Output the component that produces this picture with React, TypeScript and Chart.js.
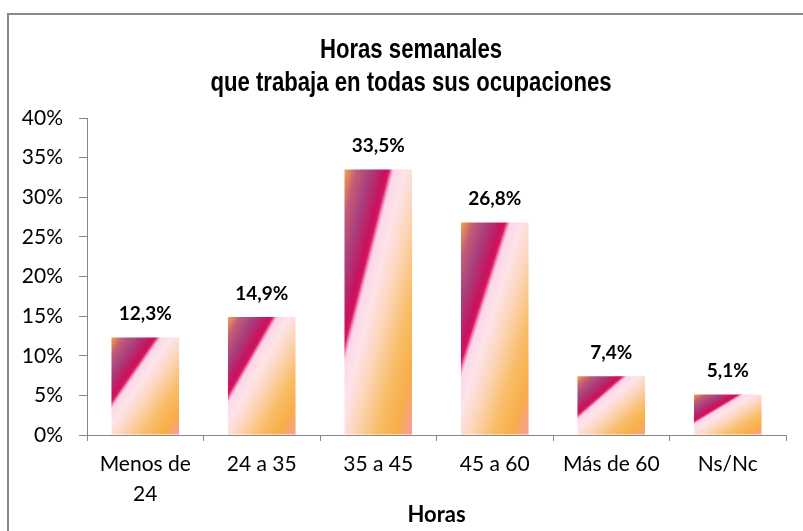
import React, { useEffect, useRef } from "react";
import { Chart, registerables } from "chart.js";

Chart.register(...registerables);

const categories: (string | string[])[] = [["Menos de", "24"], "24 a 35", "35 a 45", "45 a 60", "Más de 60", "Ns/Nc"];
const percentValues: number[] = [12.3, 14.9, 33.5, 26.8, 7.4, 5.1];
const yTickValues: number[] = [0, 5, 10, 15, 20, 25, 30, 35, 40];
const titleLines: string[] = ["Horas semanales", "que trabaja en todas sus ocupaciones"];
const xAxisTitle = "Horas";

const BAR_PCT = 0.58;
const AXIS_COLOR = "#868686";
const TEXT_FONT = "Lato, 'Open Sans', sans-serif";
const TITLE_FONT = "'Liberation Sans', Arial, sans-serif";

const gradientStops: [number, string][] = [
  [0, "#F2A54A"],
  [0.09, "#C45C76"],
  [0.19, "#A8407E"],
  [0.3, "#C8125C"],
  [0.33, "#D41666"],
  [0.345, "#F070A8"],
  [0.365, "#FCD6E6"],
  [0.45, "#FDE4EA"],
  [0.58, "#FCD4B4"],
  [0.74, "#F9BC66"],
  [0.87, "#F8AE48"],
  [1, "#F99C9C"],
];

const fmt = (v: number) => v.toFixed(1).replace(".", ",") + "%";

export default function App() {
  const canvasRef = useRef<HTMLCanvasElement | null>(null);

  useEffect(() => {
    const canvas = canvasRef.current;
    if (!canvas) return;

    const valueLabels = {
      id: "valueLabels",
      afterDatasetsDraw(chart: any) {
        const ctx = chart.ctx;
        const meta = chart.getDatasetMeta(0);
        ctx.save();
        ctx.font = `bold 19px ${TEXT_FONT}`;
        ctx.fillStyle = "#000";
        ctx.textAlign = "center";
        ctx.textBaseline = "middle";
        meta.data.forEach((bar: any, i: number) => {
          ctx.fillText(fmt(percentValues[i]), bar.x, bar.y - 23.5);
        });
        ctx.restore();
      },
    };

    const narrowTitle = {
      id: "narrowTitle",
      afterDraw(chart: any) {
        const ctx = chart.ctx;
        ctx.save();
        ctx.font = `bold 27px ${TITLE_FONT}`;
        ctx.fillStyle = "#000";
        ctx.textAlign = "center";
        ctx.textBaseline = "alphabetic";
        const cx = 411;
        const baselines = [57.5, 91];
        titleLines.forEach((line, i) => {
          ctx.save();
          ctx.translate(cx, baselines[i]);
          ctx.scale(0.82, 1);
          ctx.fillText(line, 0, 0);
          ctx.restore();
        });
        ctx.restore();
      },
    };

    const chart = new Chart(canvas, {
      type: "bar",
      data: {
        labels: categories,
        datasets: [
          {
            data: percentValues,
            barPercentage: BAR_PCT,
            categoryPercentage: 1,
            borderWidth: 0,
            backgroundColor: (c: any) => {
              const ch = c.chart;
              const xs = ch.scales?.x;
              const ys = ch.scales?.y;
              if (!xs || !ys || c.type !== "data" || typeof c.raw !== "number") return "#F8B048";
              const cx = xs.getPixelForValue(c.dataIndex);
              const w = (xs.width / categories.length) * BAR_PCT;
              const x0 = cx - w / 2;
              const y0 = ys.getPixelForValue(c.raw);
              const h = ys.getPixelForValue(0) - y0;
              if (!(w > 0) || !(h > 0)) return "#F8B048";
              const k = (2 * w * h) / (w * w + h * h);
              const g = ch.ctx.createLinearGradient(x0, y0, x0 + k * h, y0 + k * w);
              gradientStops.forEach(([p, col]) => g.addColorStop(p, col));
              return g;
            },
          },
        ],
      },
      options: {
        responsive: false,
        animation: false,
        events: [],
        layout: { padding: { left: 0, right: 17, top: 118, bottom: 0 } },
        plugins: {
          legend: { display: false },
          tooltip: { enabled: false },
          title: { display: false },
        },
        scales: {
          x: {
            type: "category",
            offset: true,
            grid: {
              display: true,
              drawOnChartArea: false,
              drawTicks: true,
              tickLength: 6,
              color: AXIS_COLOR,
              offset: true,
            },
            border: { display: true, color: AXIS_COLOR, width: 1 },
            ticks: {
              color: "#000",
              font: { family: TEXT_FONT, size: 21, lineHeight: 1.4 },
              padding: 9,
              maxRotation: 0,
              autoSkip: false,
            },
            title: {
              display: true,
              text: xAxisTitle,
              color: "#000",
              font: { family: TEXT_FONT, size: 22, weight: "bold", lineHeight: 1.2 },
              padding: { top: 0, bottom: 3 },
            },
            afterFit(scale: any) {
              scale.height = 96;
            },
          },
          y: {
            min: 0,
            max: 40,
            afterBuildTicks(scale: any) {
              scale.ticks = yTickValues.map((v) => ({ value: v }));
            },
            grid: {
              display: true,
              drawOnChartArea: false,
              drawTicks: true,
              tickLength: 8,
              color: AXIS_COLOR,
            },
            border: { display: true, color: AXIS_COLOR, width: 1 },
            ticks: {
              color: "#000",
              font: { family: TEXT_FONT, size: 21 },
              padding: 16,
              callback: (v: any) => `${v}%`,
            },
            afterFit(scale: any) {
              scale.width = 87;
            },
          },
        },
      },
      plugins: [valueLabels, narrowTitle],
    });

    return () => chart.destroy();
  }, []);

  return (
    <div style={{ position: "fixed", left: 0, top: 0, width: 803, height: 531, background: "#fff", overflow: "hidden" }}>
      <div
        style={{
          position: "absolute",
          left: 7,
          top: 13,
          width: 900,
          height: 700,
          borderLeft: "2px solid #888",
          borderTop: "2px solid #888",
        }}
      />
      <canvas ref={canvasRef} width={803} height={531} style={{ position: "absolute", left: 0, top: 0, width: 803, height: 531 }} />
    </div>
  );
}
